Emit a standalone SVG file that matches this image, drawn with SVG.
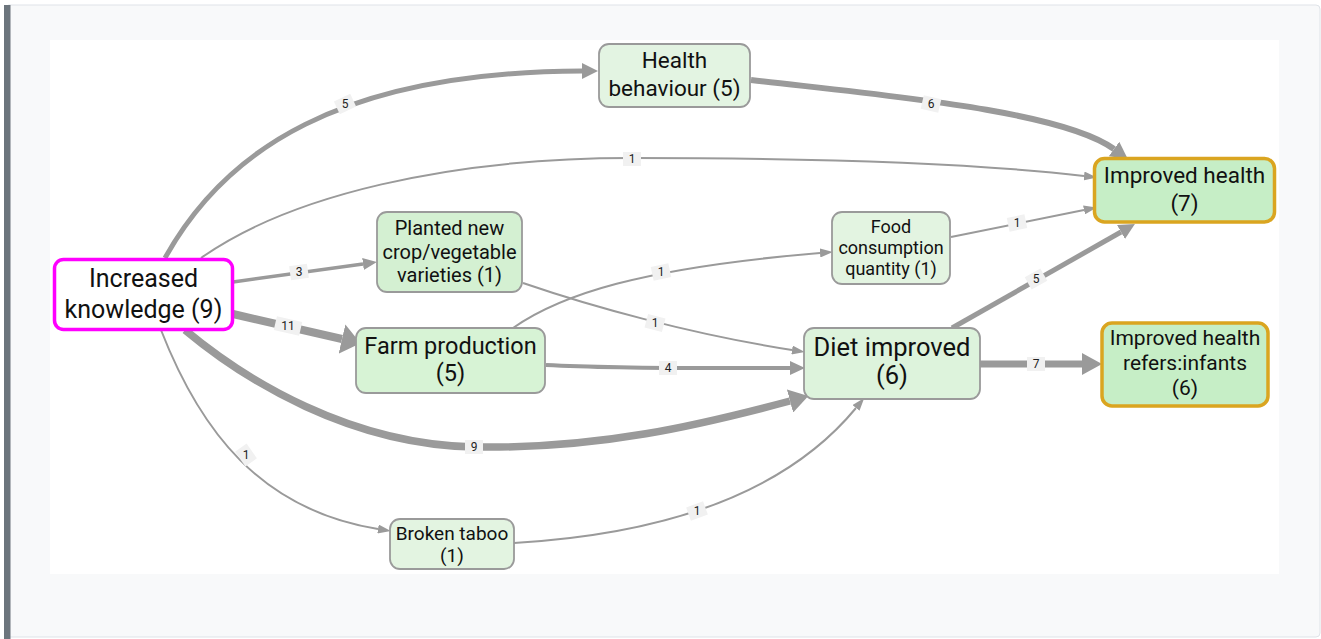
<svg xmlns="http://www.w3.org/2000/svg" width="1321" height="639" viewBox="0 0 1321 639">
<style>
.edge{fill:none;stroke:#9a9a9a;}
.lbg{fill:#f1f1f1;}
.lbl{font-family:Roboto,"Liberation Sans",sans-serif;font-size:12px;fill:#222;text-anchor:middle;dominant-baseline:central;}
.node{fill:#e2f4e1;stroke:#9a9a9a;stroke-width:1.8;}
.goal{stroke:#daa520;stroke-width:3.5;fill:#c6eec6;}
.nt{font-family:Roboto,"Liberation Sans",sans-serif;fill:#111;text-anchor:middle;}
</style>
<defs>
<marker id="m1" markerUnits="userSpaceOnUse" orient="auto" markerWidth="13" markerHeight="9" refX="0" refY="4.5"><path d="M0,0 L13,4.5 L0,9 z" fill="#9a9a9a"/></marker>
<marker id="m3" markerUnits="userSpaceOnUse" orient="auto" markerWidth="14" markerHeight="12" refX="0" refY="6"><path d="M0,0 L14,6 L0,12 z" fill="#9a9a9a"/></marker>
<marker id="m4" markerUnits="userSpaceOnUse" orient="auto" markerWidth="15" markerHeight="14" refX="0" refY="7"><path d="M0,0 L15,7 L0,14 z" fill="#9a9a9a"/></marker>
<marker id="m5" markerUnits="userSpaceOnUse" orient="auto" markerWidth="16" markerHeight="16" refX="0" refY="8"><path d="M0,0 L16,8 L0,16 z" fill="#9a9a9a"/></marker>
<marker id="m6" markerUnits="userSpaceOnUse" orient="auto" markerWidth="17" markerHeight="18" refX="0" refY="9"><path d="M0,0 L17,9 L0,18 z" fill="#9a9a9a"/></marker>
<marker id="m7" markerUnits="userSpaceOnUse" orient="auto" markerWidth="20" markerHeight="22" refX="0" refY="11"><path d="M0,0 L20,11 L0,22 z" fill="#9a9a9a"/></marker>
<marker id="m9" markerUnits="userSpaceOnUse" orient="auto" markerWidth="19" markerHeight="24" refX="0" refY="12"><path d="M0,0 L19,12 L0,24 z" fill="#9a9a9a"/></marker>
<marker id="m11" markerUnits="userSpaceOnUse" orient="auto" markerWidth="19" markerHeight="30" refX="0" refY="15"><path d="M0,0 L19,15 L0,30 z" fill="#9a9a9a"/></marker>
</defs>
<rect x="0" y="0" width="1321" height="639" fill="#ffffff"/>
<rect x="5" y="5" width="1315" height="632" rx="4" fill="#f8f9fa" stroke="#dfe3e8" stroke-width="1"/>
<rect x="4" y="5" width="6.5" height="634" fill="#6c757d"/>
<rect x="50" y="40" width="1229" height="534" fill="#ffffff"/>

<g id="connectors">
<path class="edge" stroke-width="5" marker-end="url(#m5)" d="M165,258 C225,150 340,72 582,71"/>
<path class="edge" stroke-width="6" marker-end="url(#m6)" d="M751,80 C880,95 1060,110 1114,149"/>
<path class="edge" stroke-width="2" marker-end="url(#m1)" d="M201,258 C290,195 450,158 631,158 C850,158 1000,166 1084,176"/>
<path class="edge" stroke-width="3.5" marker-end="url(#m3)" d="M233,282 L363,264"/>
<path class="edge" stroke-width="8" marker-end="url(#m11)" d="M233,314 L342,339"/>
<path class="edge" stroke-width="7.5" marker-end="url(#m9)" d="M185,330 C245,380 350,445 475,447 C600,449 700,425 790,401"/>
<path class="edge" stroke-width="2" marker-end="url(#m1)" d="M161,330 C200,430 260,510 378,529"/>
<path class="edge" stroke-width="2" marker-end="url(#m1)" d="M523,283 C590,306 690,334 792,350"/>
<path class="edge" stroke-width="2" marker-end="url(#m1)" d="M513,328 C560,295 640,268 820,253"/>
<path class="edge" stroke-width="4" marker-end="url(#m4)" d="M546,365 C620,369 700,368 790,368"/>
<path class="edge" stroke-width="2" marker-end="url(#m1)" d="M951,237 L1084,210"/>
<path class="edge" stroke-width="5" marker-end="url(#m5)" d="M952,328 L1121,232"/>
<path class="edge" stroke-width="7" marker-end="url(#m7)" d="M980,364 L1082,364"/>
<path class="edge" stroke-width="2" marker-end="url(#m1)" d="M514,543 C650,535 780,500 856,408"/>

<g id="labels">
<rect class="lbg" x="-9" y="-7" width="18" height="14" transform="translate(345,104) rotate(-25)"/><text class="lbl" x="345" y="104">5</text>
<rect class="lbg" x="-9" y="-7" width="18" height="14" transform="translate(931,104) rotate(13)"/><text class="lbl" x="931" y="104">6</text>
<rect class="lbg" x="-9" y="-7" width="18" height="14" transform="translate(632,159) rotate(0)"/><text class="lbl" x="632" y="159">1</text>
<rect class="lbg" x="-9" y="-7" width="18" height="14" transform="translate(299,272) rotate(-8)"/><text class="lbl" x="299" y="272">3</text>
<rect class="lbg" x="-13" y="-7" width="26" height="14" transform="translate(288,326) rotate(13)"/><text class="lbl" x="288" y="326">11</text>
<rect class="lbg" x="-9" y="-7" width="18" height="14" transform="translate(474,447) rotate(0)"/><text class="lbl" x="474" y="447">9</text>
<rect class="lbg" x="-9" y="-7" width="18" height="14" transform="translate(246,455) rotate(55)"/><text class="lbl" x="246" y="455">1</text>
<rect class="lbg" x="-9" y="-7" width="18" height="14" transform="translate(655,323) rotate(15)"/><text class="lbl" x="655" y="323">1</text>
<rect class="lbg" x="-9" y="-7" width="18" height="14" transform="translate(661,272) rotate(-12)"/><text class="lbl" x="661" y="272">1</text>
<rect class="lbg" x="-9" y="-7" width="18" height="14" transform="translate(668,368) rotate(0)"/><text class="lbl" x="668" y="368">4</text>
<rect class="lbg" x="-9" y="-7" width="18" height="14" transform="translate(1017,223) rotate(-11.5)"/><text class="lbl" x="1017" y="223">1</text>
<rect class="lbg" x="-9" y="-7" width="18" height="14" transform="translate(1036,279) rotate(-29.6)"/><text class="lbl" x="1036" y="279">5</text>
<rect class="lbg" x="-9" y="-7" width="18" height="14" transform="translate(1036,364) rotate(0)"/><text class="lbl" x="1036" y="364">7</text>
<rect class="lbg" x="-9" y="-7" width="18" height="14" transform="translate(697,511) rotate(-20)"/><text class="lbl" x="697" y="511">1</text>
</g>
</g>

<g id="n-increased-knowledge">
<rect x="54.5" y="259.5" width="178" height="70" rx="9" fill="#ffffff" stroke="#ff00ff" stroke-width="3.5"/>
<text class="nt" x="143.5" y="287" font-size="25">Increased</text>
<text class="nt" x="143.5" y="318" font-size="25">knowledge (9)</text>
</g>
<g id="n-health-behaviour">
<rect class="node" x="599" y="44" width="151" height="63" rx="10" style="fill:#e3f4e2"/>
<text class="nt" x="674.5" y="68" font-size="22.5">Health</text>
<text class="nt" x="674.5" y="95.5" font-size="22.5">behaviour (5)</text>
</g>
<g id="n-planted">
<rect class="node" x="377" y="212" width="145" height="80" rx="10" style="fill:#d4f0d2"/>
<text class="nt" x="449.5" y="235" font-size="20">Planted new</text>
<text class="nt" x="449.5" y="259" font-size="20">crop/vegetable</text>
<text class="nt" x="449.5" y="282" font-size="20">varieties (1)</text>
</g>
<g id="n-farm-production">
<rect class="node" x="356" y="328" width="189" height="65" rx="10" style="fill:#d7f3d5"/>
<text class="nt" x="450.5" y="354" font-size="23.5">Farm production</text>
<text class="nt" x="450.5" y="381" font-size="23.5">(5)</text>
</g>
<g id="n-food-consumption">
<rect class="node" x="832" y="212" width="118" height="72" rx="10" style="fill:#e3f4e1"/>
<text class="nt" x="891" y="233" font-size="18">Food</text>
<text class="nt" x="891" y="254" font-size="18">consumption</text>
<text class="nt" x="891" y="275" font-size="18">quantity (1)</text>
</g>
<g id="n-diet-improved">
<rect class="node" x="804" y="328" width="176" height="71" rx="10" style="fill:#ddf3dc"/>
<text class="nt" x="892" y="356" font-size="25.5">Diet improved</text>
<text class="nt" x="892" y="384" font-size="25.5">(6)</text>
</g>
<g id="n-improved-health">
<rect class="goal" x="1094.5" y="158.5" width="180" height="63.5" rx="10"/>
<text class="nt" x="1184.5" y="183" font-size="22.5">Improved health</text>
<text class="nt" x="1184.5" y="210.5" font-size="22.5">(7)</text>
</g>
<g id="n-improved-health-infants">
<rect class="goal" x="1102" y="323" width="166" height="83" rx="10"/>
<text class="nt" x="1185" y="345" font-size="21">Improved health</text>
<text class="nt" x="1185" y="370" font-size="21">refers:infants</text>
<text class="nt" x="1185" y="395" font-size="21">(6)</text>
</g>
<g id="n-broken-taboo">
<rect class="node" x="390" y="519" width="124" height="50" rx="10" style="fill:#e3f4e1"/>
<text class="nt" x="452" y="540" font-size="19">Broken taboo</text>
<text class="nt" x="452" y="562" font-size="19">(1)</text>
</g>
</svg>
